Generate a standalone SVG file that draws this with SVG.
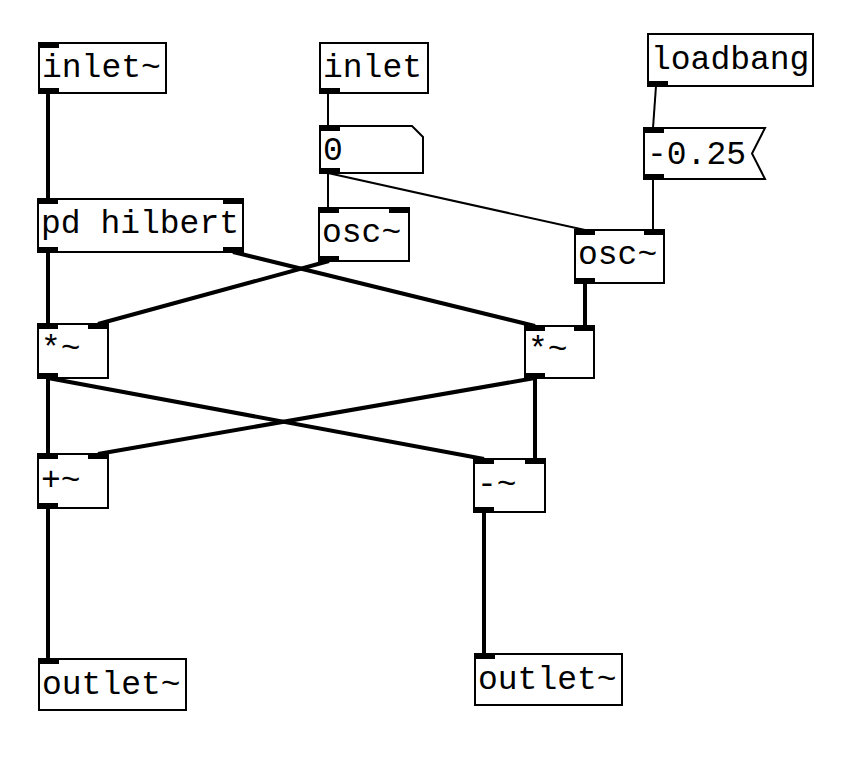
<svg xmlns="http://www.w3.org/2000/svg" width="842" height="773" viewBox="0 0 842 773">
<style>
.box{fill:#fff;stroke:#000;stroke-width:2}
.tab{fill:#000}
.t{font-family:"Liberation Mono","Courier New",monospace;font-size:33px;fill:#000}
.sig{stroke:#000;stroke-width:4;fill:none}
.ctl{stroke:#000;stroke-width:2;fill:none}
</style>
<rect width="842" height="773" fill="#fff"/>
<g id="connectors">
<line class="sig" x1="48" y1="93" x2="48" y2="199"/>
<line class="ctl" x1="328" y1="93" x2="328" y2="126"/>
<line class="ctl" x1="328" y1="173" x2="328" y2="208"/>
<line class="ctl" x1="328" y1="173" x2="585" y2="230"/>
<line class="ctl" x1="656" y1="86" x2="653" y2="128"/>
<line class="ctl" x1="653" y1="179" x2="653" y2="230"/>
<line class="sig" x1="48" y1="252" x2="48" y2="324"/>
<line class="sig" x1="233" y1="252" x2="535" y2="326"/>
<line class="sig" x1="329" y1="261" x2="98" y2="324"/>
<line class="sig" x1="585" y1="283" x2="585" y2="326"/>
<line class="sig" x1="48" y1="378" x2="48" y2="454"/>
<line class="sig" x1="48" y1="378" x2="484" y2="459"/>
<line class="sig" x1="535" y1="378" x2="98" y2="454"/>
<line class="sig" x1="535" y1="378" x2="535" y2="459"/>
<line class="sig" x1="48" y1="508" x2="48" y2="659"/>
<line class="sig" x1="484" y1="512" x2="484" y2="654"/>
</g>
<g id="inlet-sig">
<rect class="box" x="39" y="43" width="127" height="50"/>
<rect class="tab" x="39" y="43" width="20" height="5"/>
<rect class="tab" x="39" y="88" width="20" height="5"/>
<text class="t" x="42" y="77">inlet~</text>
</g>
<g id="inlet">
<rect class="box" x="320" y="43" width="108" height="50"/>
<rect class="tab" x="320" y="88" width="20" height="5"/>
<text class="t" x="323" y="77">inlet</text>
</g>
<g id="number">
<path class="box" d="M320,126 H412 L423,137 V173 H320 Z"/>
<rect class="tab" x="320" y="126" width="20" height="5"/>
<rect class="tab" x="320" y="168" width="20" height="5"/>
<text class="t" x="323" y="160">0</text>
</g>
<g id="loadbang">
<rect class="box" x="648" y="34" width="165" height="52"/>
<rect class="tab" x="648" y="81" width="20" height="5"/>
<text class="t" x="651" y="69">loadbang</text>
</g>
<g id="msg">
<path class="box" d="M644,128 H765 L752,153.5 L765,179 H644 Z"/>
<rect class="tab" x="644" y="128" width="20" height="5"/>
<rect class="tab" x="644" y="174" width="20" height="5"/>
<text class="t" x="647" y="164">-0.25</text>
</g>
<g id="osc1">
<rect class="box" x="319" y="208" width="90" height="53"/>
<rect class="tab" x="319" y="208" width="20" height="5"/>
<rect class="tab" x="389" y="208" width="20" height="5"/>
<rect class="tab" x="319" y="256" width="20" height="5"/>
<text class="t" x="322" y="242">osc~</text>
</g>
<g id="osc2">
<rect class="box" x="575" y="230" width="89" height="53"/>
<rect class="tab" x="575" y="230" width="20" height="5"/>
<rect class="tab" x="644" y="230" width="20" height="5"/>
<rect class="tab" x="575" y="278" width="20" height="5"/>
<text class="t" x="578" y="264">osc~</text>
</g>
<g id="hilbert">
<rect class="box" x="38" y="199" width="205" height="53"/>
<rect class="tab" x="38" y="199" width="20" height="5"/>
<rect class="tab" x="223" y="199" width="20" height="5"/>
<rect class="tab" x="38" y="247" width="20" height="5"/>
<rect class="tab" x="223" y="247" width="20" height="5"/>
<text class="t" x="41" y="233">pd hilbert</text>
</g>
<g id="mul1">
<rect class="box" x="38" y="324" width="70" height="54"/>
<rect class="tab" x="38" y="324" width="20" height="5"/>
<rect class="tab" x="88" y="324" width="20" height="5"/>
<rect class="tab" x="38" y="373" width="20" height="5"/>
<text class="t" x="41" y="358">*~</text>
</g>
<g id="mul2">
<rect class="box" x="525" y="326" width="69" height="52"/>
<rect class="tab" x="525" y="326" width="20" height="5"/>
<rect class="tab" x="574" y="326" width="20" height="5"/>
<rect class="tab" x="525" y="373" width="20" height="5"/>
<text class="t" x="528" y="359">*~</text>
</g>
<g id="add">
<rect class="box" x="38" y="454" width="70" height="54"/>
<rect class="tab" x="38" y="454" width="20" height="5"/>
<rect class="tab" x="88" y="454" width="20" height="5"/>
<rect class="tab" x="38" y="503" width="20" height="5"/>
<text class="t" x="41" y="490">+~</text>
</g>
<g id="sub">
<rect class="box" x="474" y="459" width="71" height="53"/>
<rect class="tab" x="474" y="459" width="20" height="5"/>
<rect class="tab" x="525" y="459" width="20" height="5"/>
<rect class="tab" x="474" y="507" width="20" height="5"/>
<text class="t" x="477" y="494">-~</text>
</g>
<g id="outlet1">
<rect class="box" x="39" y="659" width="147" height="51"/>
<rect class="tab" x="39" y="659" width="20" height="5"/>
<text class="t" x="42" y="694">outlet~</text>
</g>
<g id="outlet2">
<rect class="box" x="475" y="654" width="147" height="51"/>
<rect class="tab" x="475" y="654" width="20" height="5"/>
<text class="t" x="478" y="689">outlet~</text>
</g>
</svg>
